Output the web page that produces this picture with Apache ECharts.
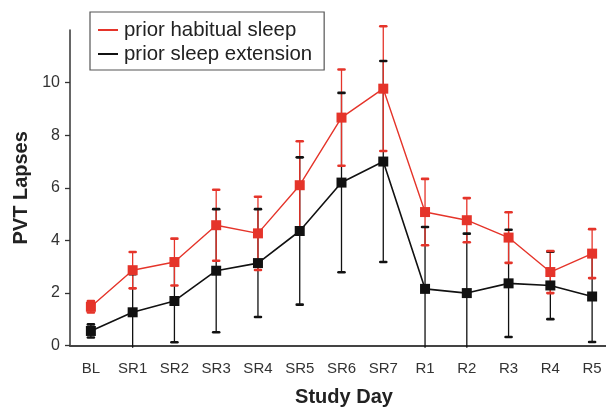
<!DOCTYPE html>
<html>
<head>
<meta charset="utf-8">
<title>PVT Lapses by Study Day</title>
<script src="https://cdn.jsdelivr.net/npm/echarts@6/dist/echarts.min.js"></script>
<style>
  html, body { margin: 0; padding: 0; background: #fff; }
  #chart { width: 606px; height: 408px; }
</style>
</head>
<body>
<div id="chart"></div>
<script>
// Study days on the x axis
const days = ['BL', 'SR1', 'SR2', 'SR3', 'SR4', 'SR5', 'SR6', 'SR7', 'R1', 'R2', 'R3', 'R4', 'R5'];

// Mean PVT lapses and their error (± SD) for each condition
const habitualMean = [1.48, 2.87, 3.18, 4.58, 4.27, 6.10, 8.67, 9.77, 5.08, 4.77, 4.11, 2.80, 3.50];
const habitualErr  = [0.22, 0.69, 0.89, 1.35, 1.39, 1.67, 1.83, 2.37, 1.26, 0.84, 0.96, 0.80, 0.93];
const extensionMean = [0.56, 1.27, 1.70, 2.85, 3.14, 4.36, 6.20, 7.00, 2.16, 2.00, 2.37, 2.29, 1.87];
const extensionErr  = [0.25, 1.45, 1.57, 2.34, 2.05, 2.80, 3.41, 3.82, 2.35, 2.26, 2.04, 1.28, 1.73];

// Labelled y ticks
const yTicks = [0, 2, 4, 6, 8, 10];

const seriesNames = ['prior habitual sleep', 'prior sleep extension'];
const RED = '#e5342a';
const BLACK = '#111111';
const FONT = '"Liberation Sans", Arial, Helvetica, sans-serif';

// Rows for the error-bar layer: [group, dayIndex, mean, err]
const errRows = [];
extensionMean.forEach((m, i) => errRows.push([1, i, m, extensionErr[i]]));
habitualMean.forEach((m, i) => errRows.push([0, i, m, habitualErr[i]]));

function renderErrorBar(params, api) {
  const g = api.value(0);
  const i = api.value(1);
  const m = api.value(2);
  const e = api.value(3);
  const color = g === 0 ? RED : BLACK;
  const top = api.coord([i, m + e]);
  const low = m - e;
  const base = api.coord([i, 0]);
  const bottom = low < 0 ? [top[0], base[1] + 2] : api.coord([i, low]);
  const capHalf = 3;
  const children = [
    {
      type: 'line',
      z2: g === 0 ? 1 : 0,
      shape: { x1: top[0], y1: top[1], x2: bottom[0], y2: bottom[1] },
      style: { stroke: color, lineWidth: 1.3 }
    },
    {
      type: 'line',
      z2: 3,
      shape: { x1: top[0] - capHalf, y1: top[1], x2: top[0] + capHalf, y2: top[1] },
      style: { stroke: color, lineWidth: 2.6, lineCap: 'round' }
    }
  ];
  if (low >= 0) {
    children.push({
      type: 'line',
      z2: 3,
      shape: { x1: bottom[0] - capHalf, y1: bottom[1], x2: bottom[0] + capHalf, y2: bottom[1] },
      style: { stroke: color, lineWidth: 2.6, lineCap: 'round' }
    });
  }
  return { type: 'group', children };
}

const chart = echarts.init(document.getElementById('chart'), null, { renderer: 'canvas' });

chart.setOption({
  animation: false,
  backgroundColor: '#ffffff',
  textStyle: { fontFamily: FONT },
  grid: { left: 70, top: 30, width: 543, height: 315.7, containLabel: false, outerBoundsMode: 'none' },
  legend: {
    data: seriesNames,
    orient: 'vertical',
    left: 90,
    top: 12,
    icon: 'rect',
    itemWidth: 20,
    itemHeight: 2,
    itemGap: 4,
    padding: [8, 12, 6, 8],
    borderColor: '#555555',
    borderWidth: 1.2,
    textStyle: { fontFamily: FONT, fontSize: 20.4, color: '#222222', padding: [0, 0, 0, 1] }
  },
  xAxis: {
    type: 'category',
    data: days,
    boundaryGap: true,
    name: 'Study Day',
    nameLocation: 'middle',
    nameGap: 42,
    nameTextStyle: { fontFamily: FONT, fontSize: 20, fontWeight: 'bold', color: '#222222', padding: [0, 0, 0, 5] },
    axisLine: { lineStyle: { color: '#444444', width: 2 } },
    axisTick: { show: false },
    axisLabel: { fontFamily: FONT, fontSize: 15, color: '#333333', margin: 16 },
    splitLine: { show: false }
  },
  yAxis: {
    type: 'value',
    min: 0,
    max: 12,
    interval: 2,
    name: 'PVT Lapses',
    nameLocation: 'middle',
    nameGap: 38,
    nameTextStyle: { fontFamily: FONT, fontSize: 20, fontWeight: 'bold', color: '#222222' },
    axisLine: { show: true, lineStyle: { color: '#333333', width: 1.5 } },
    axisTick: { show: true, length: 5, inside: false, customValues: yTicks, lineStyle: { color: '#333333', width: 1.3 } },
    axisLabel: { fontFamily: FONT, fontSize: 16, color: '#333333', margin: 10, customValues: yTicks },
    splitLine: { show: false }
  },
  series: [
    {
      type: 'custom',
      name: 'error',
      z: 2,
      clip: false,
      silent: true,
      renderItem: renderErrorBar,
      encode: { x: 1, y: 2 },
      data: errRows
    },
    {
      type: 'line',
      name: seriesNames[1],
      z: 3,
      data: extensionMean,
      symbol: 'rect',
      symbolSize: 10,
      color: BLACK,
      lineStyle: { color: BLACK, width: 1.6 },
      itemStyle: { color: BLACK }
    },
    {
      type: 'line',
      name: seriesNames[0],
      z: 4,
      data: habitualMean,
      symbol: 'rect',
      symbolSize: 10,
      color: RED,
      lineStyle: { color: RED, width: 1.4 },
      itemStyle: { color: RED }
    }
  ]
});
</script>
</body>
</html>
